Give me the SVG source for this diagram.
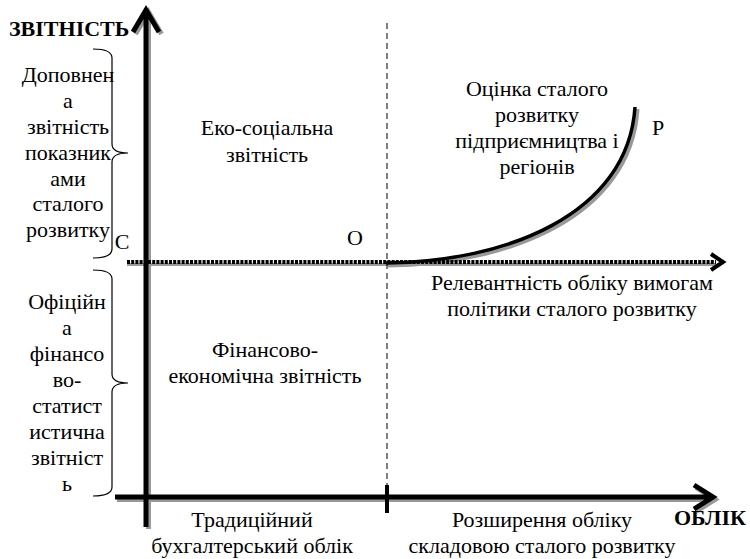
<svg xmlns="http://www.w3.org/2000/svg" width="750" height="559" viewBox="0 0 750 559" font-family="'Liberation Serif', 'Times New Roman', serif">
<style>
text{font-family:'Liberation Serif','Times New Roman','DejaVu Serif',serif;font-size:22px;fill:#000;text-anchor:middle}
.b{font-weight:bold;text-anchor:start}
.ax{fill:none;stroke:#000;stroke-width:5}
.sh{fill:none;stroke:#999;stroke-width:5}
.br{fill:none;stroke:#000;stroke-width:1.2}
</style>
<rect width="750" height="559" fill="#fff"/>
<g id="connectors">
<path class="sh" d="M117,499.5 H714 M696,487.5 L715,499.5 L696,511.5"/>
<path class="sh" d="M148.5,529 V12 M135.5,34 L148.5,12 L161.5,34"/>
<path class="sh" d="M388,265 C507,264 630,217 637,109" stroke-width="4"/>
<line x1="127" y1="264.5" x2="716" y2="264.5" stroke="#999" stroke-width="3"/>
<line x1="387" y1="23" x2="387" y2="486" stroke="#000" stroke-width="1" stroke-dasharray="6 4"/>
<path class="ax" d="M115,497 H712 M694,485 L713,497 L694,509"/>
<path class="ax" d="M146,527 V10 M133,32 L146,10 L159,32"/>
<line x1="387" y1="485" x2="387" y2="513" stroke="#000" stroke-width="4"/>
<line x1="127" y1="262" x2="716" y2="262" stroke="#000" stroke-width="4" stroke-dasharray="3 1.2"/>
<polyline points="711,254 723,262 711,270" fill="none" stroke="#000" stroke-width="4"/>
<path d="M386,263 C505,262 628,215 635,107" fill="none" stroke="#000" stroke-width="3.5"/>
<path class="br" d="M93,49 Q112,49 112,58 L112,144 Q112,153 128,153 Q112,153 112,162 L112,249 Q112,258 93,258"/>
<path class="br" d="M93,270 Q112,270 112,279 L112,374 Q112,383 128,383 Q112,383 112,392 L112,487 Q112,496 93,496"/>
</g>
<g id="y-title"><text class="b" x="9" y="36">ЗВІТНІСТЬ</text></g>
<g id="x-title"><text class="b" x="674" y="525">ОБЛІК</text></g>
<g id="supplemented">
<text x="68" y="82">Доповнен</text>
<text x="68" y="108">а</text>
<text x="68" y="134">звітність</text>
<text x="68" y="160">показник</text>
<text x="68" y="186">ами</text>
<text x="68" y="211">сталого</text>
<text x="68" y="237">розвитку</text>
</g>
<g id="official">
<text x="67" y="309">Офіційн</text>
<text x="67" y="335">а</text>
<text x="67" y="361">фінансо</text>
<text x="67" y="387">во-</text>
<text x="67" y="413">статист</text>
<text x="67" y="439">истична</text>
<text x="67" y="465">звітніст</text>
<text x="67" y="491">ь</text>
</g>
<g id="point-c"><text x="122" y="249">С</text></g>
<g id="point-o"><text x="355" y="245">О</text></g>
<g id="point-p"><text x="658" y="135">Р</text></g>
<g id="eco-social">
<text x="267" y="135">Еко-соціальна</text>
<text x="267" y="162">звітність</text>
</g>
<g id="financial">
<text x="265" y="357">Фінансово-</text>
<text x="265" y="383">економічна звітність</text>
</g>
<g id="assessment">
<text x="537" y="96">Оцінка сталого</text>
<text x="537" y="122">розвитку</text>
<text x="537" y="148">підприємництва і</text>
<text x="537" y="174">регіонів</text>
</g>
<g id="relevance">
<text x="572" y="290">Релевантність обліку вимогам</text>
<text x="572" y="316">політики сталого розвитку</text>
</g>
<g id="traditional">
<text x="252" y="527">Традиційний</text>
<text x="252" y="553">бухгалтерський облік</text>
</g>
<g id="extension">
<text x="542" y="527">Розширення обліку</text>
<text x="542" y="553">складовою сталого розвитку</text>
</g>
</svg>
